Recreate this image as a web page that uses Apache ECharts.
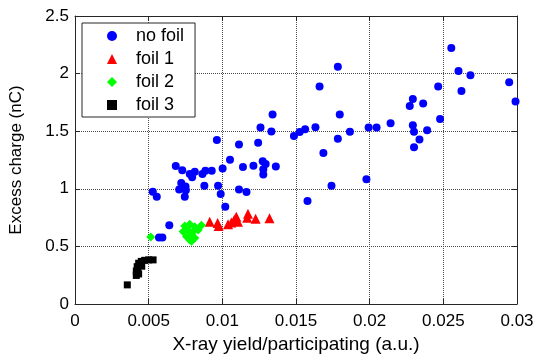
<!DOCTYPE html>
<html>
<head>
<meta charset="utf-8">
<script src="https://cdn.jsdelivr.net/npm/echarts@6/dist/echarts.min.js"></script>
<style>
  html, body { margin: 0; padding: 0; background: #fff; }
  #chart { width: 541px; height: 359px; }
</style>
</head>
<body>
<div id="chart"></div>
<script>
// axis ticks
const xTicks = [0, 0.005, 0.01, 0.015, 0.02, 0.025, 0.03];
const yTicks = [0, 0.5, 1, 1.5, 2, 2.5];

// [x-ray yield, excess charge]
const noFoil = [
  [0.02554, 2.222], [0.02603, 2.023], [0.02684, 1.985], [0.02947, 1.925], [0.0299, 1.757],
  [0.02465, 1.887], [0.02623, 1.850], [0.02293, 1.779], [0.02272, 1.719], [0.02363, 1.741],
  [0.02478, 1.606], [0.02293, 1.551], [0.02301, 1.496], [0.0239, 1.509], [0.02338, 1.428],
  [0.02301, 1.361], [0.02142, 1.568], [0.02047, 1.532], [0.01993, 1.532], [0.01784, 2.060],
  [0.0166, 1.887], [0.01797, 1.644], [0.01866, 1.496], [0.01784, 1.434], [0.01686, 1.311],
  [0.01632, 1.534], [0.01562, 1.518], [0.01525, 1.494], [0.01486, 1.459], [0.01978, 1.082],
  [0.01741, 1.027], [0.01578, 0.895], [0.01341, 1.646], [0.01259, 1.532], [0.01333, 1.497],
  [0.00963, 1.423], [0.01113, 1.385], [0.01243, 1.400], [0.01052, 1.252], [0.01274, 1.239],
  [0.01294, 1.216], [0.01363, 1.193], [0.01278, 1.170], [0.01278, 1.124], [0.01211, 1.201],
  [0.0114, 1.189], [0.01002, 1.177], [0.00928, 1.156], [0.00885, 1.157], [0.00865, 1.128],
  [0.00813, 1.147], [0.00795, 1.100], [0.00779, 1.128], [0.00728, 1.162], [0.00684, 1.199],
  [0.00721, 1.050], [0.0075, 1.021], [0.00707, 0.993], [0.00752, 0.987], [0.00745, 0.932],
  [0.00878, 1.027], [0.00971, 1.027], [0.00989, 0.954], [0.01113, 0.993], [0.01164, 0.972],
  [0.00528, 0.974], [0.00555, 0.932], [0.0102, 0.844], [0.0064, 0.684], [0.0057, 0.578],
  [0.00593, 0.578]
];
const foil1 = [
  [0.00914, 0.713], [0.00968, 0.703], [0.00975, 0.676], [0.01039, 0.693], [0.01061, 0.707],
  [0.01095, 0.758], [0.01106, 0.713], [0.01081, 0.732], [0.01174, 0.783], [0.01169, 0.749],
  [0.01226, 0.741], [0.0132, 0.745]
];
const foil2 = [
  [0.00514, 0.581], [0.00745, 0.676], [0.00779, 0.693], [0.00813, 0.671], [0.00858, 0.684],
  [0.00734, 0.629], [0.00768, 0.642], [0.00802, 0.629], [0.00836, 0.642], [0.00757, 0.587],
  [0.00791, 0.600], [0.00813, 0.572], [0.00779, 0.556], [0.00791, 0.545]
];
const foil3 = [
  [0.00355, 0.166], [0.00416, 0.248], [0.00416, 0.286], [0.00422, 0.324], [0.00432, 0.354],
  [0.0045, 0.370], [0.00473, 0.379], [0.005, 0.383], [0.0053, 0.383], [0.00432, 0.261],
  [0.00426, 0.303], [0.00453, 0.328]
];

const font = 'Liberation Sans, Arial, Helvetica, sans-serif';
const frame = '#262626';

const chart = echarts.init(document.getElementById('chart'), null, { renderer: 'canvas' });

function axisBase(ticks, step) {
  return {
    type: 'value', min: ticks[0], max: ticks[ticks.length - 1], interval: step,
    axisLine: { show: true, onZero: false, lineStyle: { color: frame, width: 1 } },
    axisTick: { show: true, inside: true, length: 5, lineStyle: { color: frame } },
    splitLine: { show: false }
  };
}
// dotted grid, only on the main axes
const gridLine = { show: true, lineStyle: { color: '#4d4d4d', type: 'dotted', width: 1 } };

chart.setOption({
  backgroundColor: '#fff',
  animation: false,
  grid: { left: 73, right: 24, top: 16, bottom: 46, containLabel: false },
  legend: {
    orient: 'vertical', left: 82, top: 23, z: 10,
    backgroundColor: '#fff', borderColor: frame, borderWidth: 1,
    padding: [4, 11, 3, 25],
    itemWidth: 10, itemHeight: 10, itemGap: 5,
    textStyle: { fontFamily: font, fontSize: 18, color: '#000', lineHeight: 18, padding: [0, 0, 0, 14] },
    data: ['no foil', 'foil 1', 'foil 2', 'foil 3']
  },
  xAxis: [
    Object.assign(axisBase(xTicks, 0.005), {
      position: 'bottom',
      name: 'X-ray yield/participating (a.u.)', nameLocation: 'middle', nameGap: 31,
      nameTextStyle: { fontFamily: font, fontSize: 19, color: '#000' },
      axisLabel: { fontFamily: font, fontSize: 17, color: '#000', margin: 9 },
      splitLine: gridLine
    }),
    Object.assign(axisBase(xTicks, 0.005), { position: 'top', axisLabel: { show: false } })
  ],
  yAxis: [
    Object.assign(axisBase(yTicks, 0.5), {
      position: 'left',
      name: 'Excess charge (nC)', nameLocation: 'middle', nameGap: 50,
      nameTextStyle: { fontFamily: font, fontSize: 17, color: '#000' },
      axisLabel: { fontFamily: font, fontSize: 17, color: '#000', margin: 6 },
      splitLine: gridLine
    }),
    Object.assign(axisBase(yTicks, 0.5), { position: 'right', axisLabel: { show: false } })
  ],
  series: [
    { name: 'no foil', type: 'scatter', symbol: 'circle', symbolSize: 8,
      itemStyle: { color: '#0000ff', opacity: 1 }, data: noFoil },
    { name: 'foil 1', type: 'scatter', symbol: 'triangle', symbolSize: 10,
      itemStyle: { color: '#ff0000', opacity: 1 }, data: foil1 },
    { name: 'foil 2', type: 'scatter', symbol: 'diamond', symbolSize: 9,
      itemStyle: { color: '#00ff00', opacity: 1 }, data: foil2 },
    { name: 'foil 3', type: 'scatter', symbol: 'rect', symbolSize: 7,
      itemStyle: { color: '#000000', opacity: 1 }, data: foil3 }
  ]
});
</script>
</body>
</html>
